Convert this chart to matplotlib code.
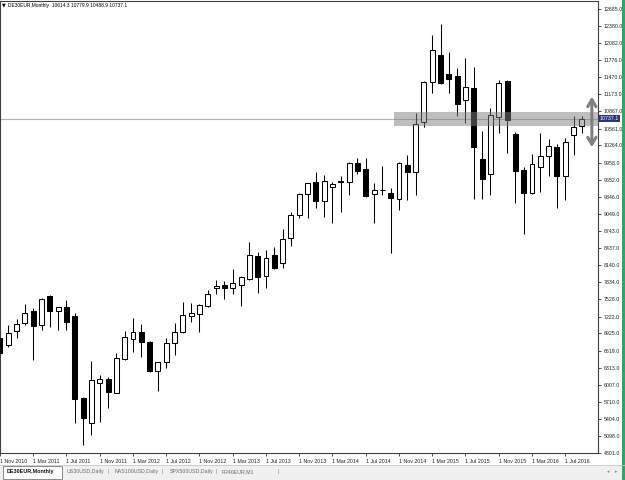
import numpy as np
import pandas as pd
import matplotlib
matplotlib.use("Agg")
import matplotlib.pyplot as plt
from matplotlib.patches import Rectangle
from matplotlib.lines import Line2D

plt.rcParams['font.family'] = ['Liberation Sans', 'DejaVu Sans']

# DAX CFD, monthly bars
symbol = "DE30EUR,Monthly"
other_tabs = ["US30USD,Daily", "NAS100USD,Daily", "SPX500USD,Daily", "FR40EUR,M1"]
months = pd.date_range("2010-11-01", periods=71, freq="MS")

opens = [6850, 6720, 6965, 7110, 7320, 7075, 7590, 7320, 7395, 7235,
         5780, 5335, 6045, 6115, 5865, 6470, 6825, 6950, 6775, 6255,
         6415, 6755, 6950, 7235, 7270, 7410, 7735, 7785, 7735, 7785,
         7890, 8300, 7945, 8315, 8175, 8620, 9030, 9400, 9615, 9275,
         9525, 9605, 9615, 9950, 9845, 9400, 9465, 9420, 9310, 9915,
         9790, 10680, 11390, 11870, 11530, 11495, 11070, 11285, 10020, 9755,
         10770, 11410, 10465, 9825, 9420, 9880, 10075, 10235, 9720, 10450,
         10614.3]
highs = [6880, 7070, 7180, 7445, 7375, 7555, 7605, 7400, 7520, 7285,
         5790, 6435, 6185, 6150, 6575, 6970, 7200, 7090, 6790, 6420,
         6845, 7110, 7480, 7465, 7440, 7695, 7875, 7855, 8070, 7940,
         8550, 8370, 8405, 8460, 8780, 9080, 9420, 9600, 9790, 9740,
         9615, 9720, 9970, 10040, 10040, 9595, 9900, 9505, 9970, 10095,
         10840, 11400, 12225, 12420, 11925, 11640, 11815, 11655, 10520, 10930,
         11425, 11420, 10500, 9880, 10110, 10485, 10380, 10290, 10395, 10785,
         10779.9]
lows = [6520, 6680, 6845, 7075, 6450, 6985, 7040, 6985, 6985, 5335,
        4945, 5120, 5350, 5600, 5860, 6460, 6595, 6505, 6240, 5900,
        6310, 6540, 6930, 7130, 6950, 7400, 7625, 7535, 7625, 7410,
        7880, 7645, 7730, 8070, 8085, 8475, 8975, 8975, 9150, 8990,
        8885, 9080, 9385, 9755, 9340, 8885, 9385, 8355, 9115, 9295,
        9385, 10590, 11195, 11360, 11195, 10785, 10660, 9310, 9310, 9385,
        10485, 10130, 9240, 8690, 9400, 9435, 9720, 9150, 9295, 10095,
        10488.9]
closes = [6580, 6930, 7090, 7285, 7055, 7535, 7320, 7390, 7130, 5760,
          5420, 6095, 6115, 5885, 6490, 6860, 6950, 6775, 6255, 6415,
          6755, 6950, 7250, 7285, 7430, 7625, 7765, 7735, 7820, 7925,
          8315, 7925, 8265, 8085, 8600, 9030, 9400, 9595, 9275, 9630,
          9580, 9625, 9950, 9810, 9365, 9470, 9480, 9330, 9950, 9790,
          10645, 11390, 11960, 11370, 11445, 11000, 11300, 10235, 9665, 10805,
          11370, 10715, 9810, 9420, 9935, 10075, 10255, 9720, 10325, 10590,
          10737.1]

price_ticks = [12685.0, 12380.0, 12082.0, 11776.0, 11470.0, 11173.0, 10867.0,
               10561.0, 10264.0, 9958.0, 9652.0, 9346.0, 9049.0, 8743.0,
               8437.0, 8140.0, 7834.0, 7528.0, 7222.0, 6925.0, 6619.0,
               6313.0, 6007.0, 5710.0, 5404.0, 5098.0, 4801.0]

# grey zone, and the swing arrow drawn on the chart
zone_low, zone_high = 10608, 10857
zone_start = 47.35
swing_top, swing_bottom = 11177, 10182
swing_bar = 71.2

W, H = 625, 480
fig = plt.figure(figsize=(W / 100, H / 100), dpi=100)
ax = fig.add_axes([0, 27 / H, 598 / W, 452 / H])

x = np.arange(len(months))
o = np.array(opens)
c = np.array(closes)
up = c >= o

ax.axhline(closes[-1], color='#b4b4b4', lw=0.8, zorder=1)
ax.vlines(x, lows, highs, color='black', lw=0.75, zorder=2)
ax.bar(x, np.abs(c - o), bottom=np.minimum(o, c), width=0.6,
       color=np.where(up, 'white', 'black'), edgecolor='black',
       linewidth=0.75, zorder=3)

ax.set_xlim(0.16, 71.94)
ax.set_ylim(4801, 12828)

ax.add_patch(Rectangle((zone_start, zone_low), 80 - zone_start, zone_high - zone_low,
                       facecolor='#7f7f7f', alpha=0.5, lw=0, zorder=4))
ax.annotate('', xy=(swing_bar, swing_top), xytext=(swing_bar, swing_bottom),
            arrowprops=dict(arrowstyle='<->,head_length=0.5,head_width=0.3',
                            color='#808080', lw=2.2), zorder=5)

# axes look
ax.yaxis.tick_right()
ax.set_yticks(price_ticks)
ax.set_yticklabels([f"{v:.1f}" for v in price_ticks])
ax.tick_params(axis='y', length=2, width=0.6, pad=2, labelsize=3.8,
               color='#333333', labelcolor='#222222')
ax.set_xticks(x[::4])
ax.set_xticklabels([f"1 {d:%b %Y}" for d in months[::4]])
ax.tick_params(axis='x', length=2.5, width=0.6, pad=1.5, labelsize=3.8,
               color='#333333', labelcolor='#222222')
for lab in ax.get_xticklabels():
    lab.set_horizontalalignment('left')
for sp in ax.spines.values():
    sp.set_color('#404040')
    sp.set_linewidth(0.8)

# bid label on the price scale
ax.text(1.003, closes[-1], f"{closes[-1]:.1f}", transform=ax.get_yaxis_transform(),
        ha='left', va='center', fontsize=3.8, color='white', zorder=6,
        bbox=dict(boxstyle='square,pad=0.15', fc='#2e3473', ec='none'))

# title line
fig.text(2 / W, 1 - 5 / H, "\u25bc", fontsize=3.5, va='center', family='DejaVu Sans')
fig.text(8 / W, 1 - 5 / H,
         f"{symbol}  {opens[-1]} {highs[-1]} {lows[-1]} {closes[-1]}",
         fontsize=3.5, va='center', color='black')

# tab bar at the bottom
fig.add_artist(Rectangle((0, 0), 1, 15 / H, transform=fig.transFigure,
                         fc='#f0f0f0', ec='none'))
fig.add_artist(Line2D([0, 1], [15 / H, 15 / H], transform=fig.transFigure,
                      color='#c8c8c8', lw=0.6))
fig.add_artist(Rectangle((3 / W, 1 / H), 59 / W, 13 / H, transform=fig.transFigure,
                         fc='white', ec='#7a7a7a', lw=0.6))
fig.text(7 / W, 8 / H, symbol, fontsize=3.9, fontweight='bold', va='center', color='#111111')
tab_x = [67, 115, 170, 222]
sep_x = [107, 162, 216, 277]
for name, tx, sx in zip(other_tabs, tab_x, sep_x):
    fig.text(tx / W, 8 / H, name, fontsize=3.8, va='center', color='#6a6a6a')
    fig.text(sx / W, 8 / H, "|", fontsize=4, va='center', color='#8a8a8a')
fig.text(607 / W, 8 / H, "\u25c2", fontsize=3.5, va='center', color='#8a8a8a', family='DejaVu Sans')
fig.text(615 / W, 8 / H, "\u25b8", fontsize=3.5, va='center', color='#8a8a8a', family='DejaVu Sans')

# window border on the right
fig.add_artist(Rectangle((622 / W, 0), 3 / W, 1, transform=fig.transFigure,
                         fc='#3aa16c', ec='none'))

fig.savefig("out.png", dpi=100)
